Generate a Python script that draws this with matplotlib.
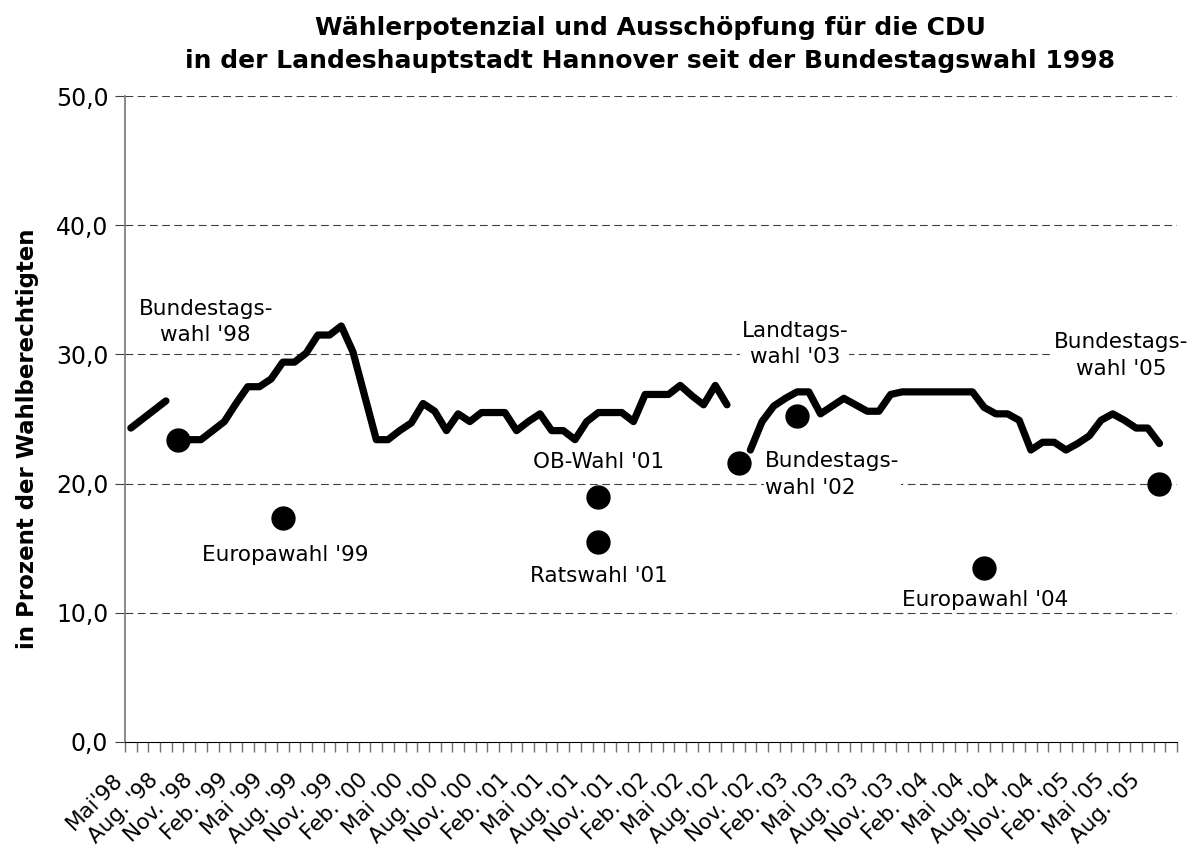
import numpy as np
import matplotlib
matplotlib.use("Agg")
import matplotlib.pyplot as plt
from matplotlib.transforms import ScaledTranslation

# ---Monthly categories, Mai '98 bis Okt. '05---
n_cat = 90

# labels shown every 3rd month
tick_labels = ["Mai'98", "Aug. '98", "Nov. '98", "Feb. '99", "Mai '99", "Aug. '99",
               "Nov. '99", "Feb. '00", "Mai '00", "Aug. '00", "Nov. '00", "Feb. '01",
               "Mai '01", "Aug. '01", "Nov. '01", "Feb. '02", "Mai '02", "Aug. '02",
               "Nov. '02", "Feb. '03", "Mai '03", "Aug. '03", "Nov. '03", "Feb. '04",
               "Mai '04", "Aug. '04", "Nov. '04", "Feb. '05", "Mai '05", "Aug. '05"]

# ---Waehlerpotenzial (line), NaN = no value---
nan = np.nan
potenzial = [24.3, 25.0, 25.7, 26.4, nan, 23.4, 23.4, 24.1, 24.8, 26.2,
             27.5, 27.5, 28.1, 29.4, 29.4, 30.1, 31.5, 31.5, 32.2, 30.2,
             26.8, 23.4, 23.4, 24.1, 24.7, 26.2, 25.6, 24.1, 25.4, 24.8,
             25.5, 25.5, 25.5, 24.1, 24.8, 25.4, 24.1, 24.1, 23.4, 24.8,
             25.5, 25.5, 25.5, 24.8, 26.9, 26.9, 26.9, 27.6, 26.8, 26.1,
             27.6, 26.1, nan, 22.6, 24.8, 26.0, 26.6, 27.1, 27.1, 25.4,
             26.0, 26.6, 26.1, 25.6, 25.6, 26.9, 27.1, 27.1, 27.1, 27.1,
             27.1, 27.1, 27.1, 25.9, 25.4, 25.4, 24.9, 22.6, 23.2, 23.2,
             22.6, 23.1, 23.7, 24.9, 25.4, 24.9, 24.3, 24.3, 23.1, nan]

# ---Ausschoepfung at elections (month index, value, label)---
wahl_idx = [4, 13, 40, 40, 52, 57, 73, 88]
wahl_val = [23.4, 17.3, 19.0, 15.5, 21.6, 25.2, 13.5, 20.0]

label_text = ["Bundestags-\nwahl '98", "Europawahl '99", "OB-Wahl '01", "Ratswahl '01",
              "Bundestags-\nwahl '02", "Landtags-\nwahl '03", "Europawahl '04",
              "Bundestags-\nwahl '05"]
label_x = [6.4, 13.2, 40.0, 40.0, 54.25, 56.8, 73.1, 84.7]
label_y = [32.5, 14.5, 21.7, 12.85, 20.7, 30.8, 11.0, 29.9]
label_ha = ["center", "center", "center", "center", "left", "center", "center", "center"]

# ---Plot---
fig = plt.figure(figsize=(11.98, 8.52), dpi=100)
ax = fig.add_axes([125 / 1198, 110 / 852, 1052 / 1198, 646 / 852])

x = np.arange(n_cat)
ax.plot(x, potenzial, color="black", lw=5.2, solid_joinstyle="round",
        solid_capstyle="round", zorder=3)
ax.plot(wahl_idx, wahl_val, "o", color="black", ms=16.5, zorder=4)

for t, lx, ly, ha in zip(label_text, label_x, label_y, label_ha):
    ax.text(lx, ly, t, ha=ha, va="center", multialignment=ha, fontsize=15.5,
            linespacing=1.4, zorder=2,
            bbox=dict(facecolor="white", edgecolor="none", pad=1))

ax.set_xlim(-0.5, n_cat - 0.5)
ax.set_ylim(0, 50)

# y axis and dashed gridlines
yvals = np.arange(0, 51, 10)
ax.set_yticks(yvals)
ax.set_yticklabels([("%.1f" % v).replace(".", ",") for v in yvals])
for v in yvals[1:]:
    ax.axhline(v, color="#404040", lw=0.8, ls=(0, (7, 4)), zorder=1)

# x ticks: marks between months, labels every 3rd month
ax.set_xticks(np.arange(-0.5, n_cat, 1))
ax.set_xticklabels([])
ax.tick_params(axis="x", which="major", length=7, color="#707070", width=1)
ax.set_xticks(np.arange(0, n_cat - 2, 3), minor=True)
ax.set_xticklabels(tick_labels, minor=True, rotation=45, ha="right", va="center",
                   rotation_mode="anchor", fontsize=15.5)
ax.tick_params(axis="x", which="minor", length=0, pad=25)
shift = ScaledTranslation(-11 / 100, 0, fig.dpi_scale_trans)
for lab in ax.get_xticklabels(minor=True):
    lab.set_transform(lab.get_transform() + shift)

ax.tick_params(axis="y", length=7, color="#404040", labelsize=17, pad=5)

for s in ["top", "right"]:
    ax.spines[s].set_visible(False)
ax.spines["left"].set_color("#808080")
ax.spines["left"].set_linewidth(1.3)
ax.spines["bottom"].set_color("black")

ax.set_ylabel("in Prozent der Wahlberechtigten", fontsize=16.5, fontweight="bold")
ax.yaxis.set_label_coords(-86 / 1052, 0.469)

fig.suptitle("Wählerpotenzial und Ausschöpfung für die CDU\n"
             "in der Landeshauptstadt Hannover seit der Bundestagswahl 1998",
             fontsize=18, fontweight="bold", x=650 / 1198, y=1 - 16 / 852,
             va="top", linespacing=1.45)

fig.savefig("out.png", dpi=100, facecolor="white")
